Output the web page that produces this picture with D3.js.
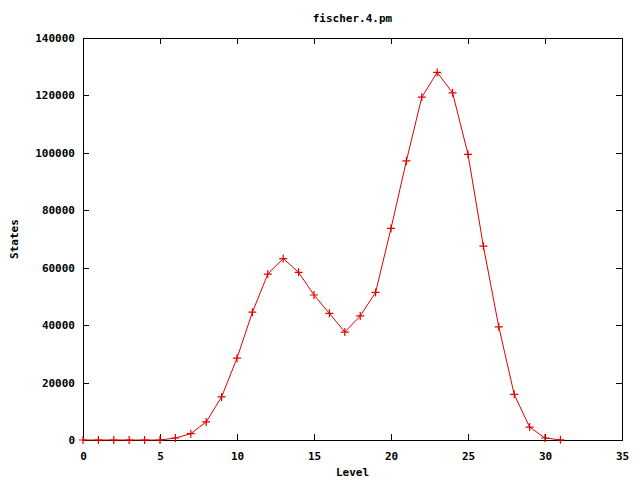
<!DOCTYPE html>
<html><head><meta charset="utf-8">
<script src="https://cdn.jsdelivr.net/npm/d3@7"></script>
<style>
body{margin:0;background:#fff;}
text{font-family:"DejaVu Sans Mono","Liberation Mono",monospace;font-weight:bold;font-size:11px;fill:#000;}
</style></head>
<body>
<svg id="c" width="640" height="480"></svg>
<script>
const title = "fischer.4.pm";
const xLabel = "Level";
const yLabel = "States";
const levels = [0,1,2,3,4,5,6,7,8,9,10,11,12,13,14,15,16,17,18,19,20,21,22,23,24,25,26,27,28,29,30,31];
const states = [0,0,0,0,0,0,700,2200,6300,15000,28500,44500,57800,63200,58400,50500,44100,37600,43200,51400,73700,97200,119400,128000,120900,99500,67500,39400,15900,4500,700,50];
const xTicks = [0,5,10,15,20,25,30,35];
const yTicks = [0,20000,40000,60000,80000,100000,120000,140000];

const svg = d3.select("#c");
const L=83,R=622,T=38,B=440;
const x = d3.scaleLinear().domain([0,35]).range([L,R]);
const y = d3.scaleLinear().domain([0,140000]).range([B,T]);

svg.append("rect").attr("width",640).attr("height",480).attr("fill","#fff");

const tl=6;
// bottom axis
const gb = svg.append("g").attr("transform",`translate(0,${B})`)
  .call(d3.axisBottom(x).tickValues(xTicks).tickSizeInner(-tl).tickSizeOuter(0).tickPadding(tl+6).tickFormat(d3.format("d")));
// top axis ticks
const gt = svg.append("g").attr("transform",`translate(0,${T})`)
  .call(d3.axisTop(x).tickValues(xTicks).tickSizeInner(-tl).tickSizeOuter(0).tickFormat(""));
// left axis
const gl = svg.append("g").attr("transform",`translate(${L},0)`)
  .call(d3.axisLeft(y).tickValues(yTicks).tickSizeInner(-tl).tickSizeOuter(0).tickPadding(tl+2).tickFormat(d3.format("d")));
// right axis ticks
const gr = svg.append("g").attr("transform",`translate(${R},0)`)
  .call(d3.axisRight(y).tickValues(yTicks).tickSizeInner(-tl).tickSizeOuter(0).tickFormat(""));
[gb,gt,gl,gr].forEach(g=>{
  g.select(".domain").remove();
  g.selectAll("line").attr("stroke","#000").attr("stroke-width",1).attr("shape-rendering","crispEdges");
  g.selectAll("text").attr("font-family",null).attr("font-size",null).attr("fill","#000");
});

svg.append("rect").attr("x",L).attr("y",T).attr("width",R-L).attr("height",B-T)
  .attr("fill","none").attr("stroke","#000").attr("stroke-width",1).attr("shape-rendering","crispEdges");

const data = levels.map((l,i)=>[l,states[i]]);
svg.append("path").datum(data)
  .attr("d",d3.line().x(d=>x(d[0])).y(d=>y(d[1])))
  .attr("fill","none").attr("stroke","#e00000").attr("stroke-width",1);

const s=4;
svg.append("g").selectAll("path.pt").data(data).join("path")
  .attr("d",d=>{const px=x(d[0]),py=y(d[1]);return `M${px-s},${py}H${px+s}M${px},${py-s}V${py+s}`;})
  .attr("stroke","#e00000").attr("stroke-width",1.2).attr("fill","none");

svg.append("text").attr("x",(L+R)/2).attr("y",22).attr("text-anchor","middle").text(title);
svg.append("text").attr("x",(L+R)/2).attr("y",476).attr("text-anchor","middle").text(xLabel);
svg.append("text").attr("transform","translate(18,239) rotate(-90)").attr("text-anchor","middle").text(yLabel);
</script>
</body></html>
